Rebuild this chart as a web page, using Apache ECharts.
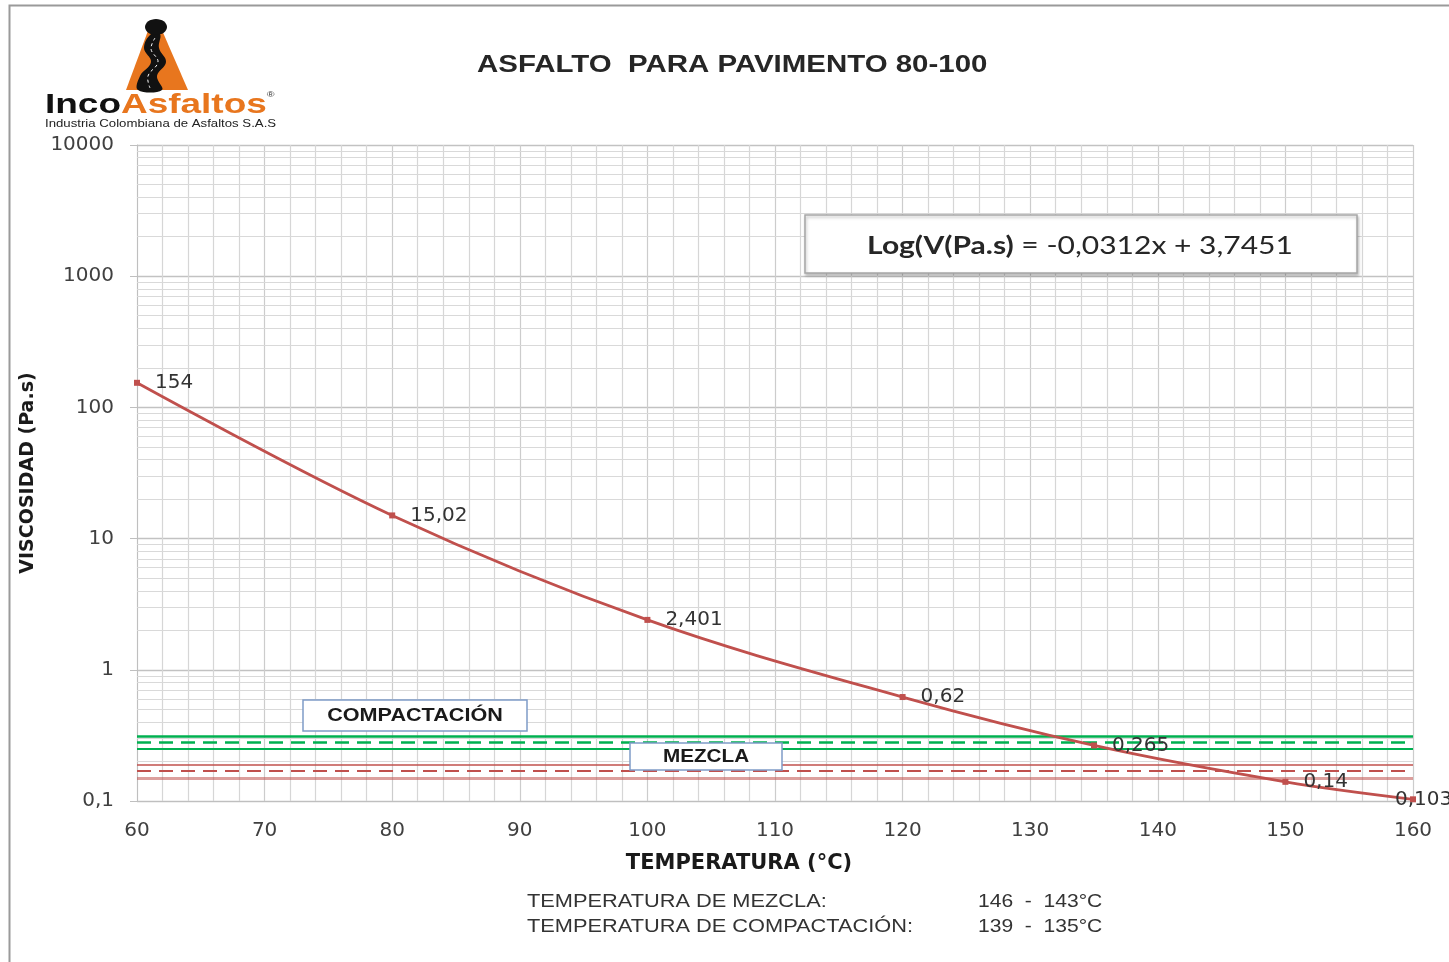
<!DOCTYPE html>
<html>
<head>
<meta charset="utf-8">
<script src="https://cdn.jsdelivr.net/npm/echarts@6/dist/echarts.min.js"></script>
<style>
  html, body { margin: 0; padding: 0; background: #fff; }
  #main { width: 1449px; height: 962px; }
</style>
</head>
<body>
<div id="main"></div>
<script>
// Datos de la curva viscosidad-temperatura
const temperaturas = [60, 80, 100, 120, 135, 150, 160];
const viscosidad = [154, 15.02, 2.401, 0.62, 0.265, 0.14, 0.103];

// Rangos de mezcla y compactación (Pa.s)
const compactacion = [0.31, 0.28, 0.25];
const mezcla = [0.19, 0.17, 0.15];

// Líneas menores del eje logarítmico
const decadas = [0.1, 1, 10, 100, 1000];
let menores = [];
decadas.forEach((d) => {
  for (let k = 2; k <= 9; k++) menores.push(+(k * d).toPrecision(3));
});

const font = "Liberation Sans, Arial, sans-serif";
const fontEje = "DejaVu Sans, sans-serif";
const rojo = "#C0504D";
const verde = "#00B050";
const naranja = "#E8761E";
const coma = (v) => String(v).replace(".", ",");

// texto con estiramiento horizontal (el original está ensanchado)
let texto = (x, y, extra) =>
  Object.assign({ type: "text", x: x, y: y, scaleX: 1.2, z: 100 }, extra);

let myChart = echarts.init(document.getElementById("main"));

let option = {
  animation: false,
  textStyle: { fontFamily: fontEje },
  grid: { left: 137, right: 36, top: 145, bottom: 161 },
  xAxis: {
    type: "value",
    min: 60,
    max: 160,
    interval: 10,
    name: "TEMPERATURA (°C)",
    nameLocation: "middle",
    nameGap: 52,
    nameTextStyle: {
      fontFamily: fontEje,
      fontSize: 21,
      fontWeight: "bold",
      color: "#1a1a1a",
      padding: [0, 72, 0, 0],
    },
    axisLine: { show: true, lineStyle: { color: "#bfbfbf" } },
    axisTick: { show: false },
    axisLabel: { fontSize: 20, color: "#404040", margin: 20 },
    splitLine: { show: true, lineStyle: { color: "#cccccc", width: 1.2 } },
    minorTick: { show: false, splitNumber: 5 },
    minorSplitLine: { show: true, lineStyle: { color: "#d6d6d6", width: 1.2 } },
  },
  yAxis: {
    type: "log",
    logBase: 10,
    min: 0.1,
    max: 10000,
    interval: 1,
    name: "VISCOSIDAD (Pa.s)",
    nameLocation: "middle",
    nameGap: 99,
    nameTextStyle: {
      fontFamily: fontEje,
      fontSize: 19,
      fontWeight: "bold",
      color: "#1a1a1a",
    },
    axisLine: { show: true, lineStyle: { color: "#bfbfbf" } },
    axisTick: { show: true, inside: false, length: 7, lineStyle: { color: "#bfbfbf" } },
    axisLabel: {
      fontSize: 20,
      color: "#404040",
      margin: 23,
      formatter: (v) => coma(v),
    },
    splitLine: { show: true, lineStyle: { color: "#c2c2c2", width: 1.3 } },
  },
  series: [
    {
      name: "rejilla",
      type: "line",
      data: [],
      silent: true,
      z: 1,
      markLine: {
        silent: true,
        symbol: "none",
        label: { show: false },
        lineStyle: { color: "#d9d9d9", width: 1.2, type: "solid" },
        data: menores.map((v) => ({ yAxis: v })),
      },
    },
    {
      name: "compactacion",
      type: "line",
      data: [],
      silent: true,
      z: 2,
      markLine: {
        silent: true,
        symbol: "none",
        label: { show: false },
        data: compactacion.map((v, i) => ({
          yAxis: v,
          lineStyle: {
            color: verde,
            width: i === 2 ? 1.8 : 2.6,
            type: i === 1 ? [14, 8] : "solid",
          },
        })),
      },
    },
    {
      name: "mezcla",
      type: "line",
      data: [],
      silent: true,
      z: 2,
      markLine: {
        silent: true,
        symbol: "none",
        label: { show: false },
        data: mezcla.map((v, i) => ({
          yAxis: v,
          lineStyle: {
            color: i === 2 ? "rgba(192,80,77,0.55)" : rojo,
            width: i === 2 ? 3 : i === 1 ? 2 : 1.6,
            type: i === 1 ? [14, 8] : "solid",
          },
        })),
      },
    },
    {
      name: "Viscosidad",
      type: "line",
      smooth: 0.35,
      z: 5,
      symbol: "rect",
      symbolSize: 6,
      itemStyle: { color: rojo },
      lineStyle: { color: rojo, width: 2.8 },
      data: temperaturas.map((t, i) => ({
        value: [t, viscosidad[i]],
        label: i === temperaturas.length - 1 ? { offset: [-36, 0] } : {},
      })),
      label: {
        show: true,
        position: "right",
        distance: 15,
        fontFamily: fontEje,
        fontSize: 20,
        color: "#333",
        formatter: (p) => coma(p.value[1]),
      },
    },
  ],
  graphic: [
    // marco exterior
    {
      type: "rect",
      shape: { x: 9.5, y: 5.5, width: 1460, height: 980 },
      style: { fill: "none", stroke: "#9a9a9a", lineWidth: 2 },
      z: 0,
    },
    // título
    texto(477, 54, {
      scaleX: 1.28,
      style: {
        text: "ASFALTO  PARA PAVIMENTO 80-100",
        font: "bold 23px " + font,
        fill: "#262626",
      },
    }),
    // caja de ecuación
    {
      type: "rect",
      z: 99,
      shape: { x: 805, y: 215, width: 552, height: 58 },
      style: {
        fill: "#fff",
        stroke: "#a6a6a6",
        lineWidth: 1.5,
        shadowBlur: 3,
        shadowOffsetX: 1,
        shadowOffsetY: 2,
        shadowColor: "rgba(0,0,0,0.25)",
      },
    },
    texto(1080, 246, {
      style: {
        text: "{b|Log(V(Pa.s)} = -0,0312x + 3,7451",
        font: "25px Lato, sans-serif",
        fill: "#262626",
        align: "center",
        verticalAlign: "middle",
        rich: { b: { font: "bold 25px Lato, sans-serif", fill: "#262626" } },
      },
    }),
    // caja COMPACTACIÓN
    {
      type: "rect",
      z: 99,
      shape: { x: 303, y: 700, width: 224, height: 31 },
      style: { fill: "#fff", stroke: "#7f9cc8", lineWidth: 1.5 },
    },
    texto(415, 716, {
      style: {
        text: "COMPACTACIÓN",
        font: "bold 18px " + font,
        fill: "#1a1a1a",
        align: "center",
        verticalAlign: "middle",
      },
    }),
    // caja MEZCLA
    {
      type: "rect",
      z: 99,
      shape: { x: 630, y: 743, width: 152, height: 27 },
      style: { fill: "#fff", stroke: "#7f9cc8", lineWidth: 1.5 },
    },
    texto(706, 757, {
      scaleX: 1.15,
      style: {
        text: "MEZCLA",
        font: "bold 18px " + font,
        fill: "#1a1a1a",
        align: "center",
        verticalAlign: "middle",
      },
    }),
    // textos inferiores
    texto(527, 890, {
      scaleX: 1.21,
      style: {
        text: "TEMPERATURA DE MEZCLA:\nTEMPERATURA DE COMPACTACIÓN:",
        font: "18px " + font,
        fill: "#333",
        lineHeight: 25,
      },
    }),
    texto(978, 890, {
      scaleX: 1.17,
      style: {
        text: "146  -  143°C\n139  -  135°C",
        font: "18px " + font,
        fill: "#333",
        lineHeight: 25,
      },
    }),
    // logo
    {
      type: "polygon",
      shape: { points: [[126, 90], [149, 28], [161, 28], [188, 90]] },
      style: { fill: naranja },
    },
    {
      type: "polygon",
      shape: {
        points: [
          [151, 34], [144, 48], [151, 62], [140, 76], [138, 90],
          [162, 90], [157, 76], [166, 62], [159, 48], [160, 34],
        ],
        smooth: 0.4,
      },
      style: { fill: "#111" },
    },
    {
      type: "polyline",
      shape: {
        points: [[155, 38], [151, 49], [158, 62], [148, 76], [150, 88]],
        smooth: 0.4,
      },
      style: { stroke: "#fff", lineWidth: 1, lineDash: [3, 3], fill: "none" },
    },
    {
      type: "ellipse",
      shape: { cx: 156, cy: 27, rx: 11, ry: 8 },
      style: { fill: "#111" },
    },
    texto(45, 91, {
      scaleX: 1.32,
      style: {
        text: "{a|Inco}{b|Asfaltos}{c|®}",
        rich: {
          a: { font: "bold 28px " + font, fill: "#111" },
          b: { font: "bold 28px " + font, fill: naranja },
          c: { font: "8px " + font, fill: "#333", verticalAlign: "top" },
        },
      },
    }),
    texto(45, 118, {
      style: {
        text: "Industria Colombiana de Asfaltos S.A.S",
        font: "11px " + font,
        fill: "#222",
      },
    }),
  ],
};

myChart.setOption(option);
window.addEventListener("resize", function () {
  myChart.resize();
});
</script>
</body>
</html>
